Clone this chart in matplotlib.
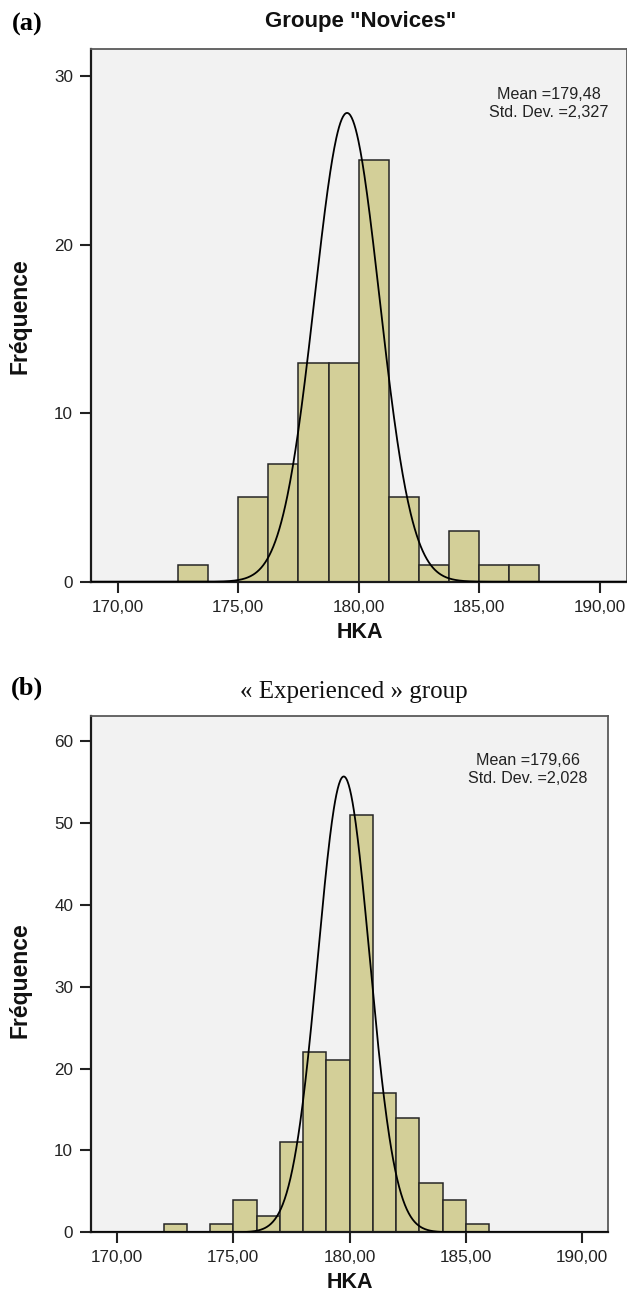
import numpy as np
import matplotlib
matplotlib.use("Agg")
import matplotlib.pyplot as plt

# ---------------- data ----------------
# Panel (a): "Novices"
novice_bin_left = [172.5, 175.0, 176.25, 177.5, 178.75, 180.0, 181.25, 182.5, 183.75, 185.0, 186.25]
novice_counts = [1, 5, 7, 13, 13, 25, 5, 1, 3, 1, 1]
novice_bin_width = 1.25
novice_curve_mean = 179.52
novice_curve_sd = 1.345
novice_stats = "Mean =179,48\nStd. Dev. =2,327"

# Panel (b): "Experienced"
exp_bin_left = [172, 174, 175, 176, 177, 178, 179, 180, 181, 182, 183, 184, 185]
exp_counts = [1, 1, 4, 2, 11, 22, 21, 51, 17, 14, 6, 4, 1]
exp_bin_width = 1.0
exp_curve_mean = 179.75
exp_curve_sd = 1.11
exp_stats = "Mean =179,66\nStd. Dev. =2,028"

x_ticks = [170, 175, 180, 185, 190]
x_tick_labels = ["170,00", "175,00", "180,00", "185,00", "190,00"]
novice_y_ticks = [0, 10, 20, 30]
exp_y_ticks = [0, 10, 20, 30, 40, 50, 60]

# ---------------- style ----------------
SANS = ["Liberation Sans", "DejaVu Sans"]
SERIF = ["Liberation Serif", "DejaVu Serif"]
plt.rcParams["font.family"] = SANS

BAR_COLOR = "#d3cf98"
BG = "#f2f2f2"
W, H = 627, 1298
fig = plt.figure(figsize=(W / 100, H / 100), dpi=100)


def px_rect(l, t, r, b):
    return [l / W, 1 - b / H, (r - l) / W, (b - t) / H]


def draw(ax, left, counts, bw, mu, sd, stats, yticks, ylim_top, stats_xy):
    ax.set_facecolor(BG)
    ax.bar(left, counts, width=bw, align="edge", color=BAR_COLOR,
           edgecolor="#262626", linewidth=1.1, zorder=2)
    xmin, xmax = 168.89, 191.12
    xs = np.linspace(xmin, xmax, 800)
    scale = sum(counts) * bw
    ys = scale * np.exp(-0.5 * ((xs - mu) / sd) ** 2) / (sd * np.sqrt(2 * np.pi))
    ax.plot(xs, ys, color="black", lw=1.3, zorder=3)
    ax.set_xlim(xmin, xmax)
    ax.set_ylim(0, ylim_top)
    ax.set_xticks(x_ticks)
    ax.set_xticklabels(x_tick_labels)
    ax.set_yticks(yticks)
    ax.tick_params(axis="both", direction="out", length=8, width=1.5,
                   labelsize=12.3, colors="#222222", pad=5)
    for s in ("top", "right"):
        ax.spines[s].set_color("#5a5a5a")
        ax.spines[s].set_linewidth(1.3)
    for s in ("left", "bottom"):
        ax.spines[s].set_color("#1a1a1a")
        ax.spines[s].set_linewidth(1.6)
    ax.text(stats_xy[0], stats_xy[1], stats, transform=ax.transAxes,
            ha="center", va="center", multialignment="center",
            fontsize=11.6, color="#222222", linespacing=1.25)


# panel (a)
ax1 = fig.add_axes(px_rect(91, 49, 626.5, 581.7))
draw(ax1, novice_bin_left, novice_counts, novice_bin_width,
     novice_curve_mean, novice_curve_sd, novice_stats,
     novice_y_ticks, 31.6, (0.855, 0.898))

# panel (b)
ax2 = fig.add_axes(px_rect(91.3, 716, 608, 1232.3))
draw(ax2, exp_bin_left, exp_counts, exp_bin_width,
     exp_curve_mean, exp_curve_sd, exp_stats,
     exp_y_ticks, 63.1, (0.845, 0.896))


def ftext(x, y, s, **kw):
    fig.text(x / W, 1 - y / H, s, **kw)


ftext(27, 24, "(a)", family=SERIF, fontweight="bold", fontsize=19,
      ha="center", va="center")
ftext(361, 22, 'Groupe "Novices"', fontweight="bold", fontsize=16,
      ha="center", va="center", color="#111111")
ftext(20, 316, "Fréquence", fontweight="bold", fontsize=16.5, rotation=90,
      ha="center", va="center", color="#111111")
ftext(360, 632, "HKA", fontweight="bold", fontsize=15.5,
      ha="center", va="center", color="#111111")

ftext(27, 688, "(b)", family=SERIF, fontweight="bold", fontsize=19,
      ha="center", va="center")
ftext(354, 692, "« Experienced » group", family=SERIF, fontsize=18,
      ha="center", va="center", color="#111111")
ftext(20, 980, "Fréquence", fontweight="bold", fontsize=16.5, rotation=90,
      ha="center", va="center", color="#111111")
ftext(350, 1282, "HKA", fontweight="bold", fontsize=15.5,
      ha="center", va="center", color="#111111")

fig.savefig("out.png", dpi=100)
